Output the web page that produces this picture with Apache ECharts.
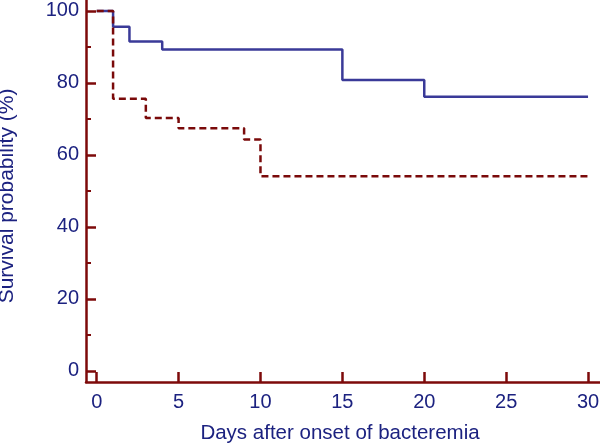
<!DOCTYPE html>
<html>
<head>
<meta charset="utf-8">
<script src="https://cdn.jsdelivr.net/npm/echarts@6/dist/echarts.min.js"></script>
<style>html,body{margin:0;padding:0;background:#fff}#c{width:600px;height:445px}</style>
</head>
<body>
<div id="c"></div>
<script>
// Kaplan-Meier survival curves (days, survival %)
const groupA = [[0,100],[1,95.6],[2,91.5],[4,89.3],[15,80.8],[20,76.2],[30,76.2]];
const groupB = [[0,100],[1,75.6],[3,70.3],[5,67.4],[9,64.3],[10,54.1],[30,54.1]];
const yMajorTicks = [0,20,40,60,80,100];
const yMinorTicks = [10,30,50,70,90];
const xTicks = [0,5,10,15,20,25,30];

const axisColor = '#7d0a0a';
const textColor = '#1c2280';
const font = 'Liberation Sans, Arial, sans-serif';

const chart = echarts.init(document.getElementById('c'));
chart.setOption({
  animation: false,
  grid: {left: 86, right: 0, top: 0, bottom: 63, containLabel: false, outerBoundsMode: 'none'},
  xAxis: {
    type: 'value', min: -0.653, max: 30.73,
    name: 'Days after onset of bacteremia', nameLocation: 'middle', nameGap: 41,
    nameTextStyle: {color: textColor, fontSize: 20.5, fontFamily: font, padding: [0, 6, 0, 0]},
    axisLine: {show: true, onZero: false, lineStyle: {color: axisColor, width: 2.5}},
    axisTick: {show: true, inside: true, length: 10, customValues: xTicks, lineStyle: {color: axisColor, width: 2.5}},
    axisLabel: {customValues: xTicks, color: textColor, fontSize: 20, fontFamily: font, margin: 10},
    splitLine: {show: false}
  },
  yAxis: [{
    type: 'value', min: -3.06, max: 103.05,
    name: 'Survival probability (%)', nameLocation: 'middle', nameGap: 68, nameRotate: 90,
    nameTextStyle: {color: textColor, fontSize: 21, fontFamily: font, padding: [0, 10, 0, 0]},
    axisLine: {show: true, onZero: false, lineStyle: {color: axisColor, width: 2.5}},
    axisTick: {show: true, inside: true, length: 10, customValues: yMajorTicks, lineStyle: {color: axisColor, width: 2.5}},
    axisLabel: {customValues: yMajorTicks, color: textColor, fontSize: 20, fontFamily: font, margin: 7},
    splitLine: {show: false}
  }, {
    type: 'value', min: -3.06, max: 103.05, position: 'left',
    axisLine: {show: false, onZero: false},
    axisTick: {show: true, inside: true, length: 5, customValues: yMinorTicks, lineStyle: {color: axisColor, width: 2}},
    axisLabel: {show: false},
    splitLine: {show: false}
  }],
  series: [{
    type: 'line', step: 'end', data: groupA, symbol: 'none', z: 2,
    lineStyle: {color: '#3a3a98', width: 2.5}
  }, {
    type: 'line', step: 'end', data: groupB, symbol: 'none', z: 3,
    lineStyle: {color: '#7a0a0a', width: 2.5, type: [7,4]}
  }]
});
</script>
</body>
</html>
